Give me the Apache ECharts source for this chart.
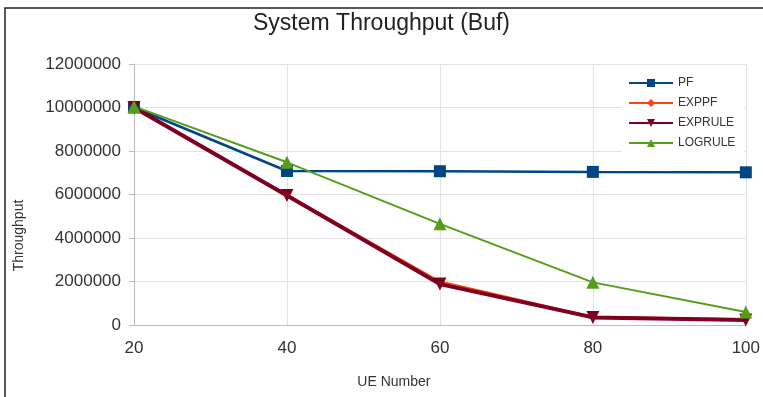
<!DOCTYPE html>
<html>
<head>
<meta charset="utf-8">
<script src="https://cdn.jsdelivr.net/npm/echarts@6/dist/echarts.min.js"></script>
<style>
  html, body { margin: 0; padding: 0; background: #fff; }
  #chart { width: 763px; height: 397px; }
</style>
</head>
<body>
<div id="chart"></div>
<script>
const ueNumbers = ['20', '40', '60', '80', '100'];
const pf = [10000000, 7080000, 7070000, 7040000, 7020000];
const exppf = [10000000, 5980000, 2000000, 380000, 260000];
const exprule = [10000000, 5950000, 1880000, 350000, 230000];
const logrule = [10050000, 7480000, 4650000, 1960000, 600000];

const myChart = echarts.init(document.getElementById('chart'));
const font = 'Liberation Sans, Arial, sans-serif';

function line(name, data, color, width, symbol, size, rotate) {
  return {
    name: name,
    type: 'line',
    data: data,
    symbol: symbol,
    symbolSize: size,
    symbolRotate: rotate || 0,
    showSymbol: true,
    animation: false,
    lineStyle: { color: color, width: width },
    itemStyle: { color: color },
  };
}

const option = {
  backgroundColor: '#fff',
  animation: false,
  title: {
    text: 'System Throughput (Buf)',
    left: 'center',
    top: 7,
    textStyle: { fontFamily: font, fontSize: 23, fontWeight: 'normal', color: '#222' },
  },
  graphic: [{
    type: 'rect',
    shape: { x: 5, y: 8, width: 820, height: 460 },
    style: { fill: 'none', stroke: '#222', lineWidth: 1.5 },
    z: 100,
  }],
  legend: {
    orient: 'vertical',
    left: 622,
    top: 70,
    itemWidth: 44,
    itemHeight: 10,
    itemGap: 8,
    padding: [7, 8, 8, 6],
    backgroundColor: '#fff',
    textStyle: { fontFamily: font, fontSize: 12, color: '#333' },
    data: ['PF', 'EXPPF', 'EXPRULE', 'LOGRULE'],
  },
  grid: { left: 134, right: 14, top: 64, bottom: 72 },
  xAxis: {
    type: 'category',
    data: ueNumbers,
    boundaryGap: false,
    name: 'UE Number',
    nameLocation: 'middle',
    nameGap: 50,
    nameTextStyle: { fontFamily: font, fontSize: 14, color: '#333', padding: [0, 92, 0, 0] },
    axisLine: { lineStyle: { color: '#bbb' } },
    axisTick: { show: false },
    axisLabel: { fontFamily: font, fontSize: 17, color: '#333', margin: 15 },
    splitLine: { show: true, lineStyle: { color: '#e2e2e2' } },
  },
  yAxis: {
    type: 'value',
    min: 0,
    max: 12000000,
    interval: 2000000,
    name: 'Throughput',
    nameLocation: 'middle',
    nameGap: 108,
    nameTextStyle: { fontFamily: font, fontSize: 14, color: '#333', padding: [0, 82, 0, 0] },
    axisLine: { show: true, lineStyle: { color: '#bbb' } },
    axisTick: { show: true, length: 5, lineStyle: { color: '#bbb' } },
    axisLabel: { fontFamily: font, fontSize: 17, color: '#333', margin: 13, formatter: (v) => String(v) },
    splitLine: { lineStyle: { color: '#e2e2e2' } },
  },
  series: [
    line('PF', pf, '#004586', 2.5, 'rect', 12),
    line('EXPPF', exppf, '#ff420e', 2, 'diamond', 7),
    line('EXPRULE', exprule, '#7e0021', 4, 'triangle', 13, 180),
    line('LOGRULE', logrule, '#579d1c', 2, 'triangle', 13),
  ],
};

myChart.setOption(option);
</script>
</body>
</html>
